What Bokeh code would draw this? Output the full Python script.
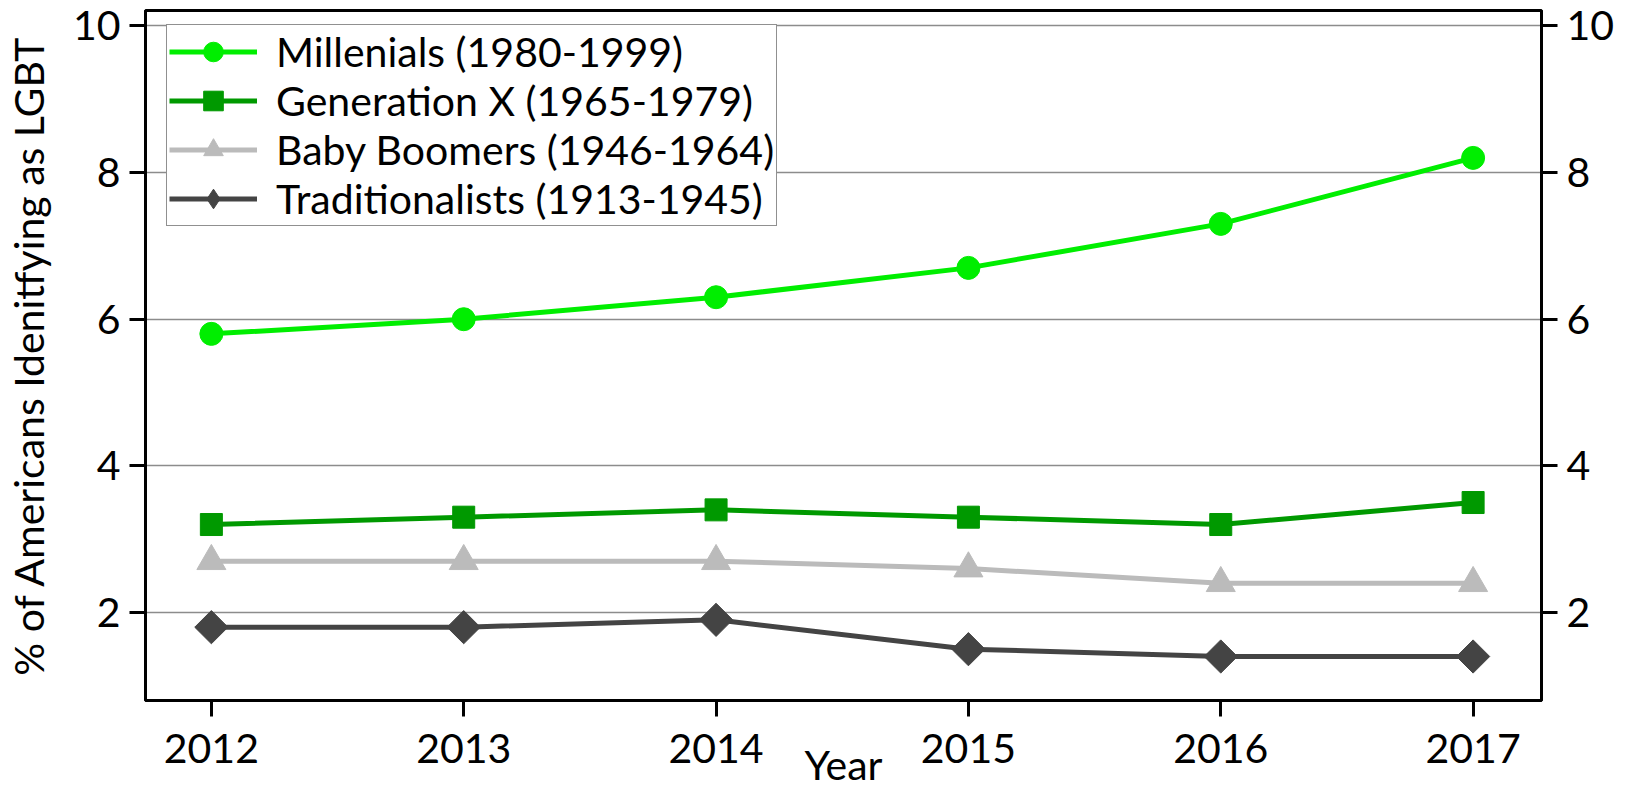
import math
from bokeh.plotting import figure
from bokeh.models import Range1d, LinearAxis, FixedTicker
from bokeh.embed import file_html
from bokeh.resources import INLINE

# ---- data ----
years = [2012, 2013, 2014, 2015, 2016, 2017]
millenials = [5.8, 6.0, 6.3, 6.7, 7.3, 8.2]
gen_x = [3.2, 3.3, 3.4, 3.3, 3.2, 3.5]
boomers = [2.7, 2.7, 2.7, 2.6, 2.4, 2.4]
traditionalists = [1.8, 1.8, 1.9, 1.5, 1.4, 1.4]
series_names = ["Millenials (1980-1999)", "Generation X (1965-1979)",
                "Baby Boomers (1946-1964)", "Traditionalists (1913-1945)"]
y_ticks = [2, 4, 6, 8, 10]
y_label = "% of Americans Idenitfying as LGBT"
x_label = "Year"

FONT = "Lato"
FS = "41px"
X0, X1 = 2011.739, 2017.271
Y0, Y1 = 0.80, 10.21

p = figure(width=1626, height=808, output_backend="svg", toolbar_location=None,
           x_range=Range1d(X0, X1), y_range=Range1d(Y0, Y1),
           min_border_left=143, min_border_right=85, min_border_top=10,
           min_border_bottom=108)

p.outline_line_color = "black"
p.outline_line_width = 3
p.outline_line_alpha = 1.0
p.background_fill_color = "white"
p.border_fill_color = "white"

p.xgrid.visible = False
p.ygrid.ticker = FixedTicker(ticks=y_ticks)
p.ygrid.grid_line_color = "#8c8c8c"
p.ygrid.grid_line_width = 1.5

right_axis = LinearAxis()
p.add_layout(right_axis, "right")

p.xaxis.ticker = FixedTicker(ticks=years)
p.yaxis.ticker = FixedTicker(ticks=y_ticks)

for ax in [p.xaxis[0], p.yaxis[0], right_axis]:
    ax.axis_line_color = "black"
    ax.axis_line_width = 3
    ax.major_tick_line_color = "black"
    ax.major_tick_line_width = 3
    ax.major_tick_out = 16
    ax.major_tick_in = 0
    ax.minor_tick_out = 0
    ax.minor_tick_in = 0
    ax.minor_tick_line_color = None
    ax.major_label_text_font = FONT
    ax.major_label_text_font_size = FS
    ax.major_label_text_color = "black"
    ax.major_label_standoff = 9

p.xaxis.major_label_standoff = 17

for ax, lab, sd in [(p.yaxis[0], y_label, 17), (p.xaxis[0], x_label, -26)]:
    ax.axis_label = lab
    ax.axis_label_text_font = FONT
    ax.axis_label_text_font_size = FS
    ax.axis_label_text_font_style = "normal"
    ax.axis_label_text_color = "black"
    ax.axis_label_standoff = sd

LW = 5
specs = [
    (millenials, "#00ee00", "circle", 23, 0.0),
    (gen_x, "#009900", "square", 22, 0.0),
    (boomers, "#bbbbbb", "triangle", 29, 0.0),
    (traditionalists, "#444444", "square", 23.5, math.pi / 4),
]
for (vals, color, marker, size, ang), name in zip(specs, series_names):
    p.line(years, vals, line_color=color, line_width=LW, legend_label=name)
    if ang == 0.0:
        p.scatter(years, vals, marker=marker, size=size,
                  fill_color=color, line_color=color, legend_label=name)
    else:
        # narrow diamond (legend key) hidden under the rotated-square marks
        p.scatter(years, vals, marker="diamond", size=30,
                  fill_color=color, line_color=color, legend_label=name)
        p.scatter(years, vals, marker=marker, size=size, angle=ang,
                  fill_color=color, line_color=color)

lg = p.legend[0]
lg.location = (21, 474)
lg.label_text_font = FONT
lg.label_text_font_size = FS
lg.label_text_color = "black"
lg.border_line_color = "#222222"
lg.border_line_width = 1
lg.background_fill_color = "white"
lg.background_fill_alpha = 1.0
lg.padding = 2
lg.margin = 0
lg.spacing = 0
lg.glyph_width = 88
lg.glyph_height = 49
lg.label_height = 49
lg.label_standoff = 19

open("out.html", "w").write(file_html(p, INLINE))
